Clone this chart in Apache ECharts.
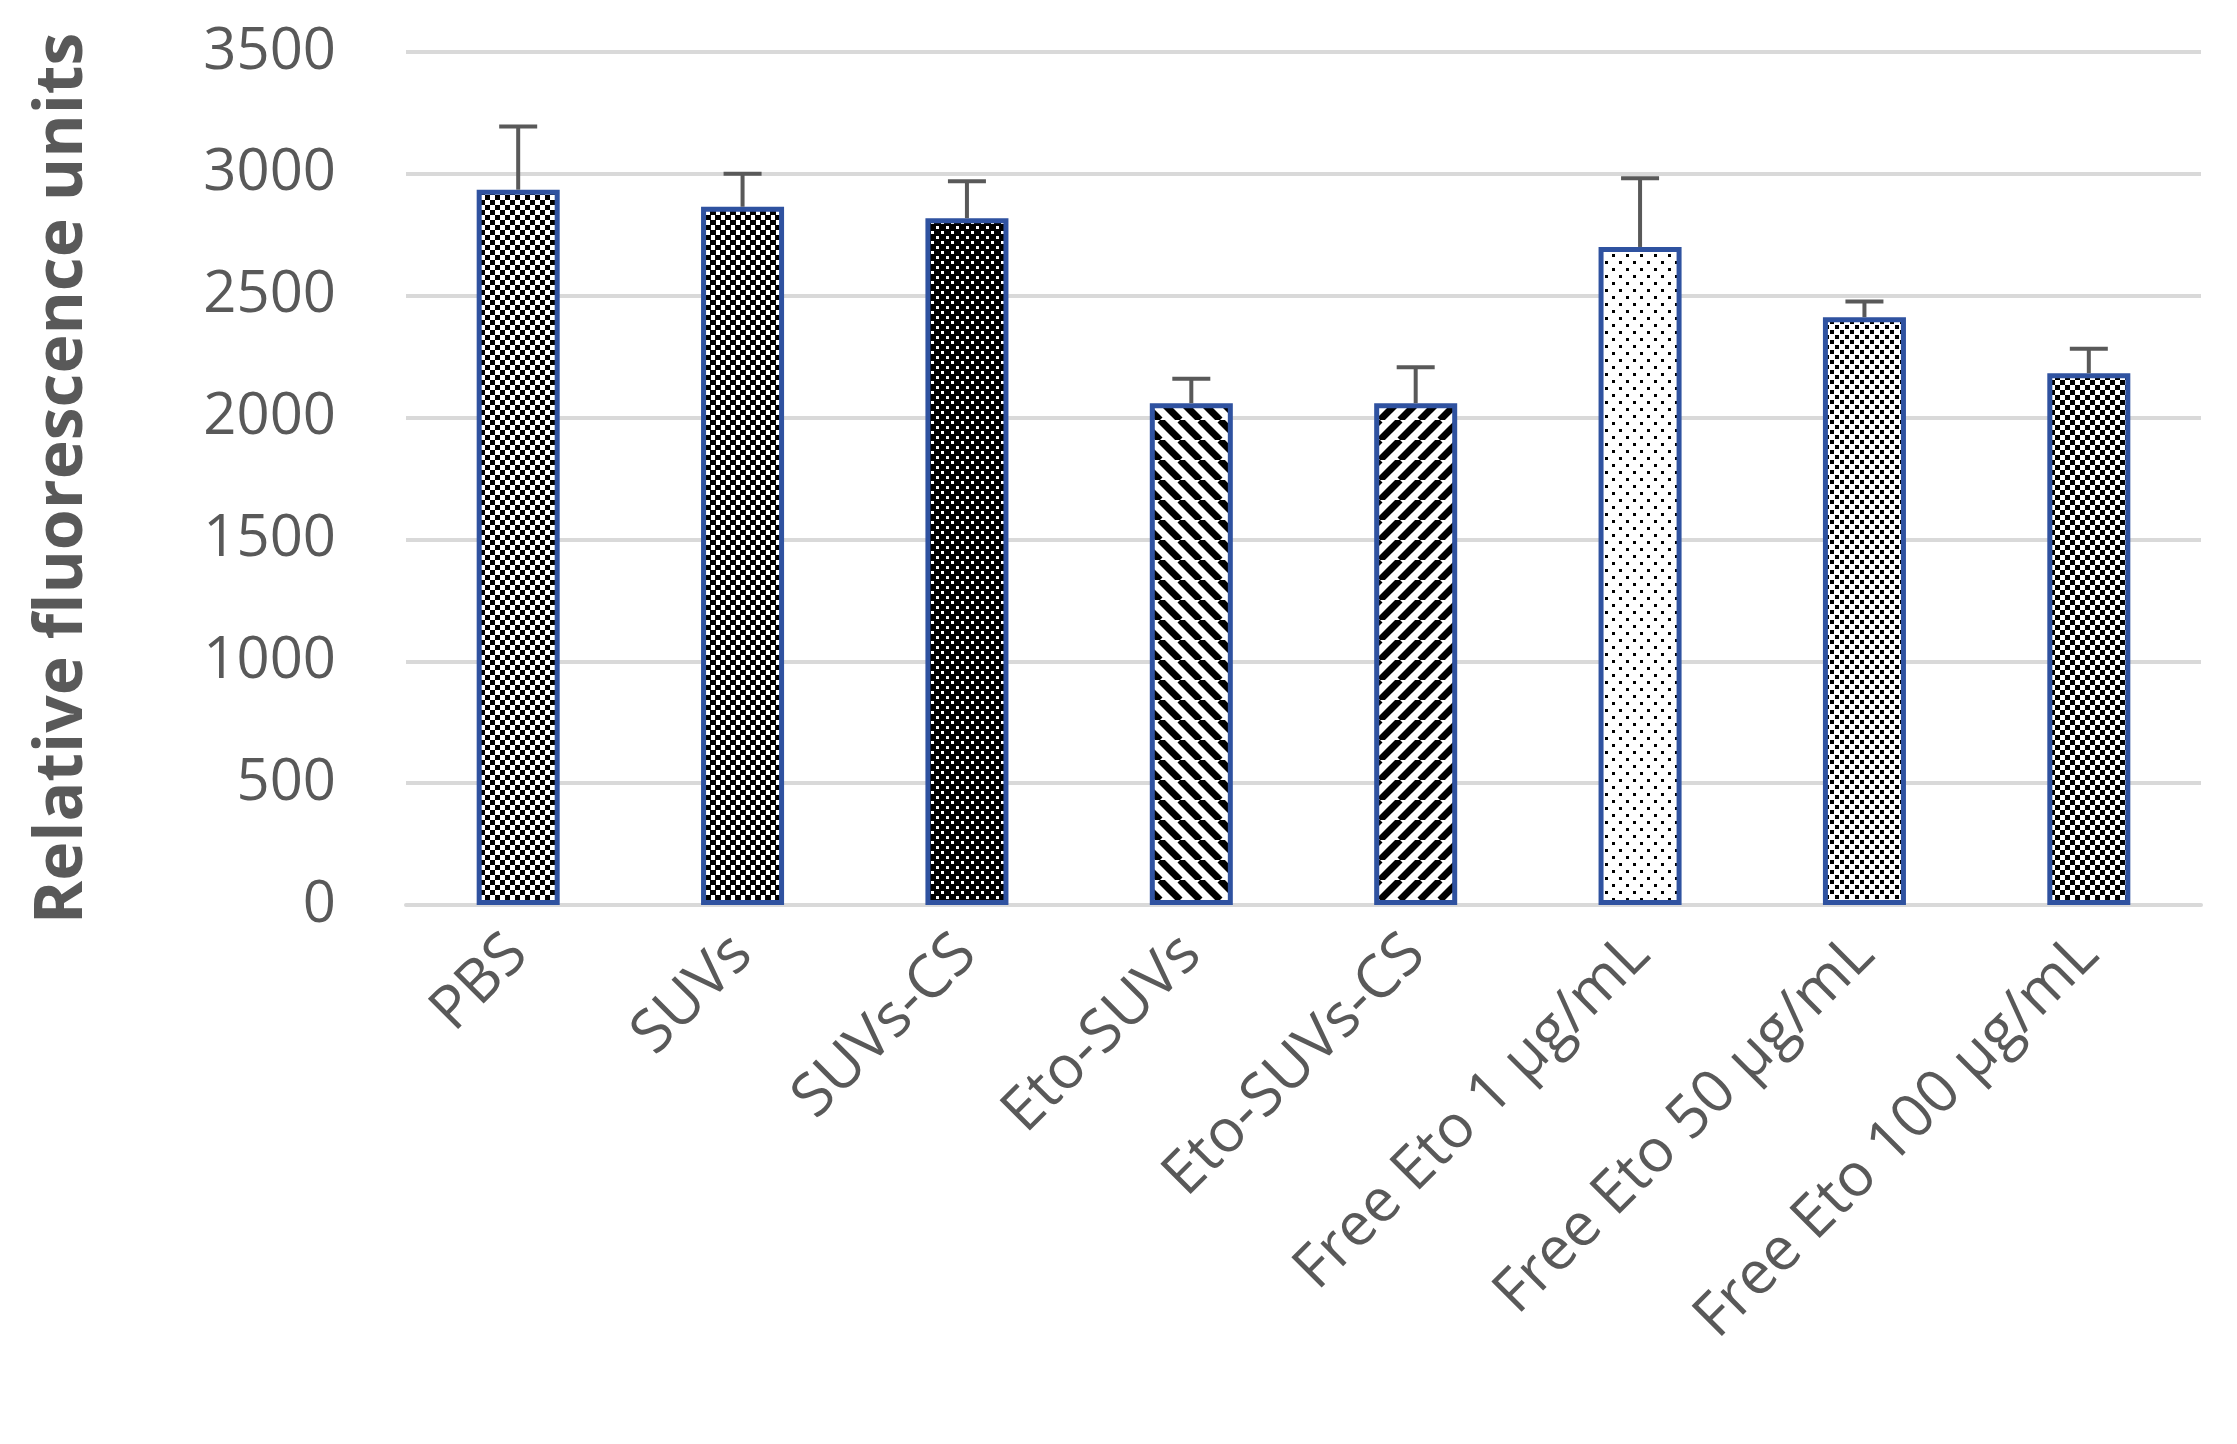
<!DOCTYPE html>
<html><head><meta charset="utf-8">
<script src="https://cdn.jsdelivr.net/npm/echarts@6/dist/echarts.min.js"></script>
<style>html,body{margin:0;background:#fff}#c{width:2237px;height:1444px}</style>
</head><body><div id="c"></div>
<script>
const categories = ['PBS','SUVs','SUVs-CS','Eto-SUVs','Eto-SUVs-CS','Free Eto 1 μg/mL','Free Eto 50 μg/mL','Free Eto 100 μg/mL'];
const values = [2935, 2865, 2818, 2059, 2059, 2700, 2412, 2182];
const errors = [259, 135, 152, 100, 147, 282, 64, 100];
const yTicks = [0, 500, 1000, 1500, 2000, 2500, 3000, 3500];

function pat(kind){
  const c=document.createElement('canvas');
  const s = kind==='diagL'||kind==='diagR'?20:(kind==='sparse'?14:10);
  c.width=s;c.height=s;const g=c.getContext('2d');
  g.fillStyle='#fff';g.fillRect(0,0,s,s);g.fillStyle='#000';
  if(kind==='checker'){g.fillRect(0,0,5,5);g.fillRect(5,5,5,5);}
  else if(kind==='checkDense'){g.fillRect(0,0,6,5);g.fillRect(5,5,5,5);g.fillRect(0,5,1,5);}
  else if(kind==='dots'){g.fillRect(0,0,10,10);g.fillStyle='#fff';g.fillRect(1,1,3,3);g.fillRect(6,6,3,3);}
  else if(kind==='sparse'){g.fillRect(2,2,3,3);g.fillRect(9,9,3,3);}
  else if(kind==='checkLight'){g.fillRect(0,0,4,4);g.fillRect(5,5,4,4);}
  else if(kind==='diagL'||kind==='diagR'){
    g.strokeStyle='#000';g.lineWidth=7;
    for(let k=-1;k<=1;k++){g.beginPath();
      if(kind==='diagL'){g.moveTo(k*s,0);g.lineTo(k*s+s,s);}else{g.moveTo(k*s+s,0);g.lineTo(k*s,s);}
      g.stroke();}
  }
  return {image:c,repeat:'repeat'};
}
const kinds=['checker','checkDense','dots','diagL','diagR','sparse','checkLight','checker'];
const chart=echarts.init(document.getElementById('c'));
chart.setOption({
  animation:false,
  grid:{left:406,right:36,top:52,bottom:539},
  xAxis:{type:'category',data:categories,axisTick:{show:false},
    axisLine:{lineStyle:{color:'#d9d9d9',width:4}},
    axisLabel:{rotate:45,color:'#595959',fontSize:60,fontFamily:'Open Sans, sans-serif',margin:40,interval:0}},
  yAxis:{type:'value',min:0,max:3500,interval:500,
    axisLabel:{color:'#595959',fontSize:58,fontFamily:'Open Sans, sans-serif',margin:70,formatter:v=>String(v)}},
  series:[{type:'bar',barWidth:'37%',
    data:values.map((v,i)=>({value:v,itemStyle:{color:pat(kinds[i]),borderColor:'#2f52a0',borderWidth:5}})),z:2},
  {type:'custom',z:3,data:values.map((v,i)=>[i,v,errors[i]]),
    renderItem:(p,api)=>{
      const a=api.coord([api.value(0),api.value(1)]);
      const b=api.coord([api.value(0),api.value(1)+api.value(2)]);
      const st={stroke:'#595959',lineWidth:4};
      return {type:'group',children:[
        {type:'line',shape:{x1:a[0],y1:a[1],x2:b[0],y2:b[1]},style:st},
        {type:'line',shape:{x1:b[0]-19,y1:b[1],x2:b[0]+19,y2:b[1]},style:st}]};
    }}]
});
chart.setOption({yAxis:{splitLine:{lineStyle:{color:'#d9d9d9',width:4}},
    name:'Relative fluorescence units',nameLocation:'middle',nameGap:310,
    nameTextStyle:{color:'#595959',fontSize:66,fontWeight:'bold',fontFamily:'Open Sans, sans-serif'}}});
</script></body></html>
